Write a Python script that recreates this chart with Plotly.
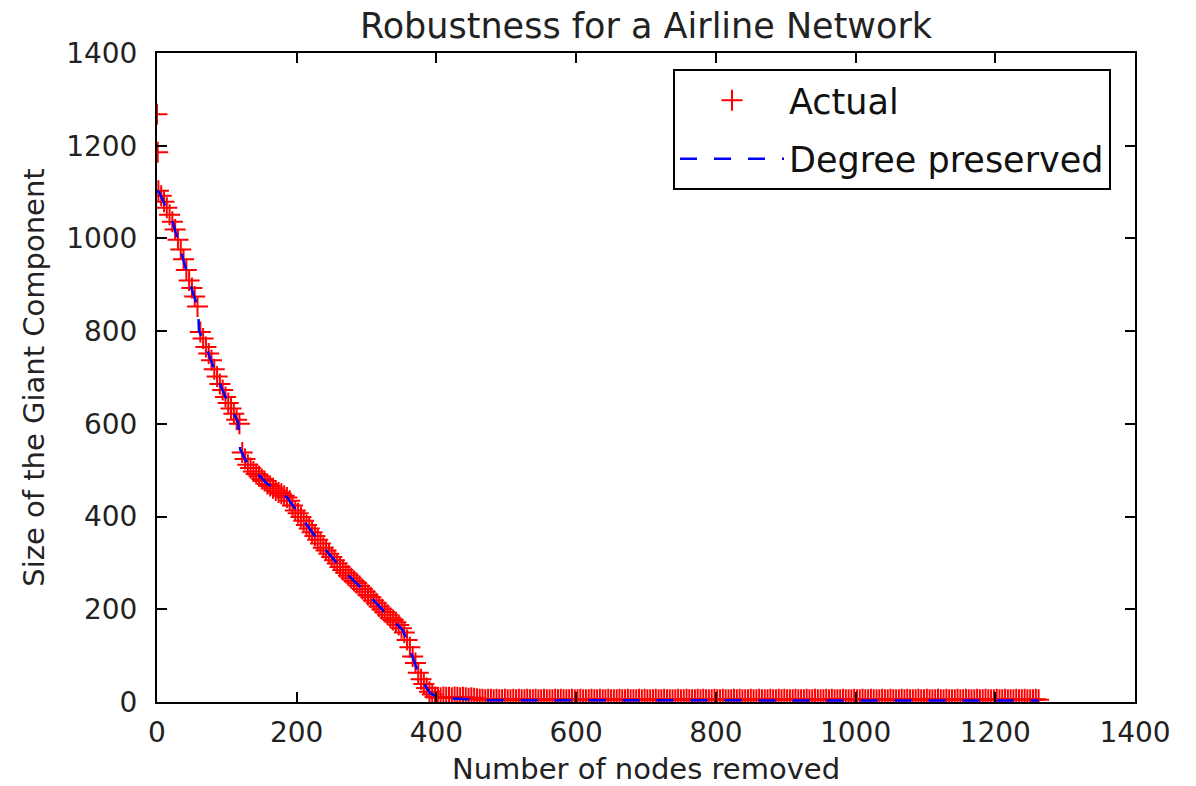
import plotly.graph_objects as go

# Size of the giant component as nodes are removed one after another.
# The first two removals (outliers at the top of the axis):
start_nodes = [0, 1]
start_giant = [1268, 1186]

# Collapse phase, sampled every 4 removals starting at node 2
STEP = 4
collapse_giant = [
    1103, 1092, 1079, 1066, 1051, 1036, 1019, 997, 976, 955,
    932, 909, 893, 875, 853, 798, 784, 766, 752, 737,
    718, 702, 686, 673, 658, 645, 633, 622, 609, 600,
    538, 524, 512, 505, 497, 492, 487, 481, 477, 470,
    466, 461, 456, 452, 449, 445, 441, 434, 424, 413,
    407, 399, 391, 382, 374, 366, 358, 350, 342, 333,
    327, 320, 313, 306, 299, 291, 285, 279, 273, 267,
    261, 256, 250, 244, 238, 231, 226, 219, 213, 206,
    200, 194, 188, 182, 177, 172, 166, 159, 150, 134,
    118, 98, 84, 63, 49, 39, 30, 22, 16, 11,
]

# Fragmented phase, sampled every 4 removals starting at node 402
tail_giant = [
    10, 9, 11, 10, 10, 9, 11, 10, 9, 10, 9, 8,
    9, 8, 7, 6, 6, 5, 6, 6, 5, 6, 5, 5,
    6, 5, 5, 6, 5, 6, 5, 5, 6, 5, 5, 6,
    5, 5, 6, 5, 5, 5, 6, 5, 6, 5, 5, 5,
    6, 5, 5, 6, 5, 5, 5, 6, 5, 5, 6, 5,
    5, 6, 5, 5, 5, 6, 5, 5, 6, 5, 5, 5,
    6, 5, 6, 5, 5, 5, 6, 5, 5, 6, 5, 5,
    5, 5, 6, 5, 5, 6, 5, 5, 5, 6, 5, 6,
    5, 5, 5, 6, 5, 5, 6, 5, 5, 5, 6, 5,
    6, 5, 5, 5, 6, 5, 5, 6, 5, 5, 5, 6,
    5, 5, 6, 5, 6, 5, 5, 5, 6, 5, 5, 5,
    6, 5, 5, 6, 5, 5, 5, 6, 5, 6, 5, 5,
    5, 6, 5, 5, 5, 6, 5, 5, 6, 5, 5, 6,
    5, 5, 5, 6, 5, 5, 6, 5, 5, 5, 6, 5,
    6, 5, 5, 5, 6, 5, 5, 6, 5, 5, 5, 6,
    5, 5, 6, 5, 5, 5, 6, 5, 5, 6, 5, 5,
    5, 6, 5, 5, 6, 5, 5, 5, 6, 5, 5, 6,
    5, 5, 5, 6, 5, 5, 6, 5, 5, 5, 6, 5,
]

# Degree-preserving randomised network
nodes_removed_dp = [0, 3, 23, 37, 47, 59, 60, 72, 86, 100, 116, 119, 129, 157,
                    186, 209, 238, 266, 300, 333, 352, 366, 376, 391, 405, 460, 1262]
giant_dp = [1102, 1100, 1033, 960, 904, 848, 802, 759, 701, 651, 604, 545, 515, 472,
            442, 393, 334, 285, 235, 183, 155, 97, 54, 19, 9, 4, 3]

collapse_nodes = list(range(2, 2 + STEP * len(collapse_giant), STEP))
tail_nodes = list(range(402, 402 + STEP * len(tail_giant), STEP))
actual_nodes = start_nodes + collapse_nodes + tail_nodes
actual_giant = start_giant + collapse_giant + tail_giant

FONT = "DejaVu Sans"
TEXT = "#222222"

fig = go.Figure()
fig.add_trace(go.Scatter(
    x=actual_nodes, y=actual_giant, mode="markers", name="Actual",
    legendgroup="a",
    marker=dict(symbol="cross-thin", size=15, color="red",
                line=dict(color="red", width=2)),
    cliponaxis=True,
))
fig.add_trace(go.Scatter(
    x=nodes_removed_dp, y=giant_dp, mode="lines", name="Degree preserved",
    legendgroup="b",
    line=dict(color="blue", width=2.5, dash="17px,17px"),
))

axis_common = dict(
    range=[0, 1400], dtick=200, tick0=0, automargin=False,
    showline=True, linecolor="black", linewidth=2, mirror="ticks",
    ticks="inside", ticklen=10, tickwidth=1.5, tickcolor="black",
    showgrid=False, zeroline=False,
    tickfont=dict(family=FONT, size=28, color=TEXT),
)

fig.update_layout(
    width=1196, height=786,
    margin=dict(l=157, r=61, t=53, b=84, autoexpand=False),
    paper_bgcolor="white", plot_bgcolor="white",
    title=dict(text="Robustness for a Airline Network", x=0.5, xref="paper",
               y=1 - 26 / 786, yref="container", yanchor="middle",
               font=dict(family=FONT, size=35, color=TEXT)),
    xaxis=dict(axis_common, ticklabelstandoff=4,
               title=dict(text="Number of nodes removed", standoff=17,
                          font=dict(family=FONT, size=29, color=TEXT))),
    yaxis=dict(axis_common, ticklabelstandoff=12,
               title=dict(text="Size of the Giant Component", standoff=13,
                          font=dict(family=FONT, size=29, color=TEXT))),
    legend=dict(x=(673 - 157) / 978, y=0.9753, xanchor="left", yanchor="top",
                bgcolor="white", bordercolor="black", borderwidth=2,
                font=dict(family=FONT, size=35, color="#111111"),
                itemwidth=104, traceorder="grouped", tracegroupgap=10),
    showlegend=True,
)

fig.write_html("out.html")
